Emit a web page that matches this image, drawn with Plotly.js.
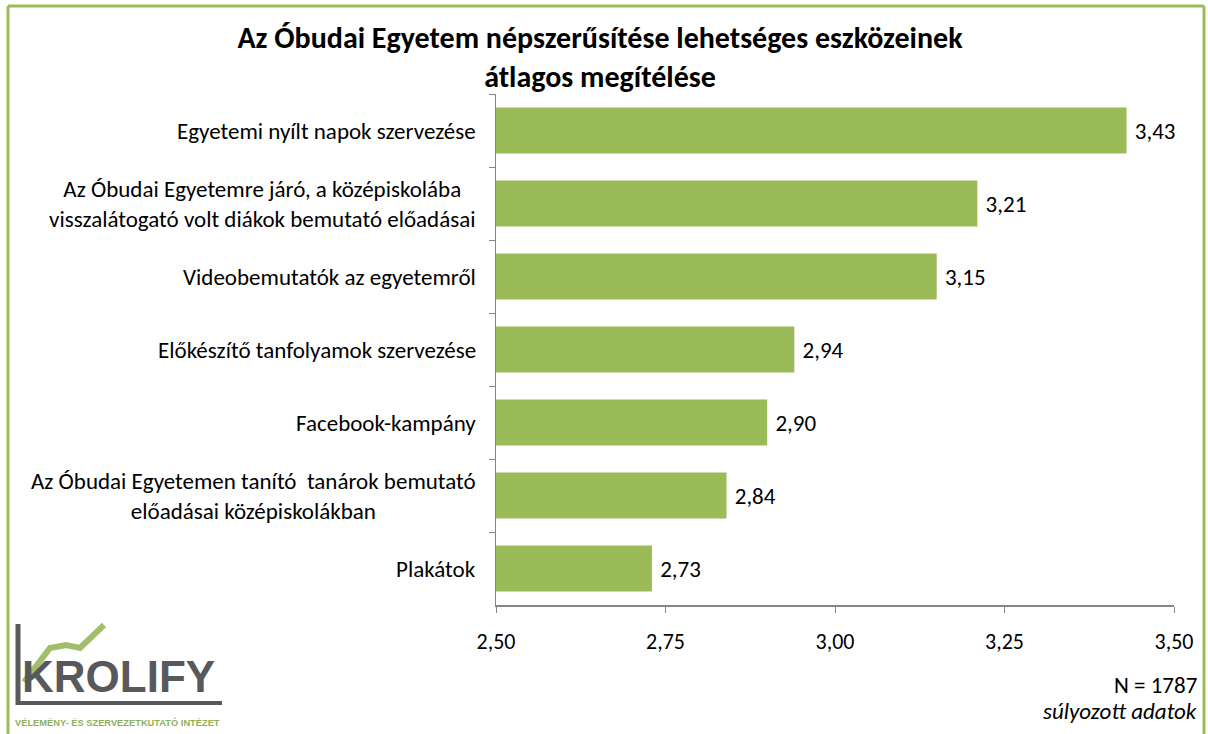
<!DOCTYPE html>
<html>
<head>
<meta charset="utf-8">
<script src="https://cdn.plot.ly/plotly-3.0.1.min.js"></script>
<style>
  html, body { margin: 0; padding: 0; background: #ffffff; }
  #chart { width: 1208px; height: 734px; }
</style>
</head>
<body>
<div id="chart"></div>
<script>
// ---- data ----
const categories = [
  "Egyetemi nyílt napok szervezése",
  "Az Óbudai Egyetemre járó, a középiskolába<br>visszalátogató volt diákok bemutató előadásai",
  "Videobemutatók az egyetemről",
  "Előkészítő tanfolyamok szervezése",
  "Facebook-kampány",
  "Az Óbudai Egyetemen tanító  tanárok bemutató<br>előadásai középiskolákban",
  "Plakátok"
];
const values = [3.43, 3.21, 3.15, 2.94, 2.90, 2.84, 2.73];
const xTicks = [2.50, 2.75, 3.00, 3.25, 3.50];
const titleText = "Az Óbudai Egyetem népszerűsítése lehetséges eszközeinek<br>átlagos megítélése";
const footN = "N = 1787";
const footW = "súlyozott adatok";
const logoText = "KROLIFY";
const logoSub = "VÉLEMÉNY- ÉS SZERVEZETKUTATÓ INTÉZET";

// ---- layout helpers (pixel -> paper) ----
const W = 1208, H = 734;
const M = {l: 496, r: 34, t: 94, b: 129};
const PW = W - M.l - M.r, PH = H - M.t - M.b;
const px = v => (v - M.l) / PW;
const py = v => (H - M.b - v) / PH;

const FONT = "Carlito, Calibri, 'Noto Sans', sans-serif";
const GREEN = "#9BBB59";
const AXIS = "#868686";

const trace = {
  type: "bar",
  orientation: "h",
  y: categories,
  x: values,
  base: 0,
  marker: {color: GREEN},
  text: values,
  texttemplate: " %{x:.2f}",
  textposition: "outside",
  textfont: {family: FONT, size: 23, color: "#000000"},
  cliponaxis: false,
  hoverinfo: "x+y"
};

const annotations = categories.map(c => ({
  xref: "x", yref: "y", x: 2.5, y: c,
  text: c, showarrow: false, xanchor: "right", yanchor: "middle",
  xshift: -18, align: "center",
  font: {family: FONT, size: 23, color: "#000000"}
}));

annotations.push(
  {xref: "paper", yref: "paper", x: px(1199), y: py(685), text: footN, showarrow: false,
   xanchor: "right", yanchor: "middle", font: {family: FONT, size: 23, color: "#000000"}},
  {xref: "paper", yref: "paper", x: px(1199), y: py(711), text: "<i>" + footW + "</i>", showarrow: false,
   xanchor: "right", yanchor: "middle", font: {family: FONT, size: 23, color: "#000000"}},
  {xref: "paper", yref: "paper", x: px(20), y: py(676), text: "<b>" + logoText + "</b>", showarrow: false,
   xanchor: "left", yanchor: "middle", font: {family: "Liberation Sans, Arial, sans-serif", size: 44, color: "#58595B"}},
  {xref: "paper", yref: "paper", x: px(13), y: py(722), text: "<b>" + logoSub + "</b>", showarrow: false,
   xanchor: "left", yanchor: "middle", font: {family: "Liberation Sans, Arial, sans-serif", size: 9.3, color: "#8FB05A"}}
);

const shapes = [
  // chart frame (green)
  {type: "line", xref: "paper", yref: "paper", x0: px(8), x1: px(1204), y0: py(6), y1: py(6), line: {color: GREEN, width: 3}},
  {type: "line", xref: "paper", yref: "paper", x0: px(8), x1: px(8), y0: py(6), y1: py(740), line: {color: GREEN, width: 3}},
  {type: "line", xref: "paper", yref: "paper", x0: px(1204), x1: px(1204), y0: py(6), y1: py(740), line: {color: GREEN, width: 3}},
  // logo: L shape
  {type: "line", xref: "paper", yref: "paper", x0: px(18), x1: px(18), y0: py(624), y1: py(705), line: {color: "#58595B", width: 5}},
  {type: "line", xref: "paper", yref: "paper", x0: px(16), x1: px(222), y0: py(703), y1: py(703), line: {color: "#58595B", width: 4}},
  // logo: green zigzag
  {type: "path", xref: "paper", yref: "paper",
   path: `M ${px(24)},${py(682)} L ${px(50)},${py(648)} L ${px(66)},${py(645)} L ${px(80)},${py(648)} L ${px(104)},${py(625)}`,
   line: {color: "#A3BE6B", width: 6}}
];

const layout = {
  width: W, height: H,
  margin: {l: M.l, r: M.r, t: M.t, b: M.b, pad: 0},
  paper_bgcolor: "#ffffff", plot_bgcolor: "#ffffff",
  separators: ", ",
  showlegend: false,
  bargap: 0.37,
  title: {
    text: "<b>" + titleText + "</b>",
    xref: "container", yref: "container",
    x: 600 / W, xanchor: "center", y: 1 - 48 / H, yanchor: "middle",
    font: {family: FONT, size: 30, color: "#000000"}
  },
  xaxis: {
    range: [2.5, 3.5], tickvals: xTicks, tickformat: ".2f",
    ticks: "outside", ticklen: 6, tickcolor: AXIS, tickwidth: 1,
    showline: true, linecolor: AXIS, linewidth: 1.5,
    showgrid: false, zeroline: false,
    tickfont: {family: FONT, size: 22, color: "#000000"},
    ticklabelstandoff: 10
  },
  yaxis: {
    type: "category", autorange: "reversed",
    ticks: "outside", ticklen: 6, tickcolor: AXIS, tickwidth: 1, tickson: "boundaries",
    showline: true, linecolor: AXIS, linewidth: 1.5,
    showgrid: false, zeroline: false, showticklabels: false
  },
  annotations: annotations,
  shapes: shapes,
  font: {family: FONT}
};

Plotly.newPlot("chart", [trace], layout, {displayModeBar: false, staticPlot: true});
</script>
</body>
</html>
